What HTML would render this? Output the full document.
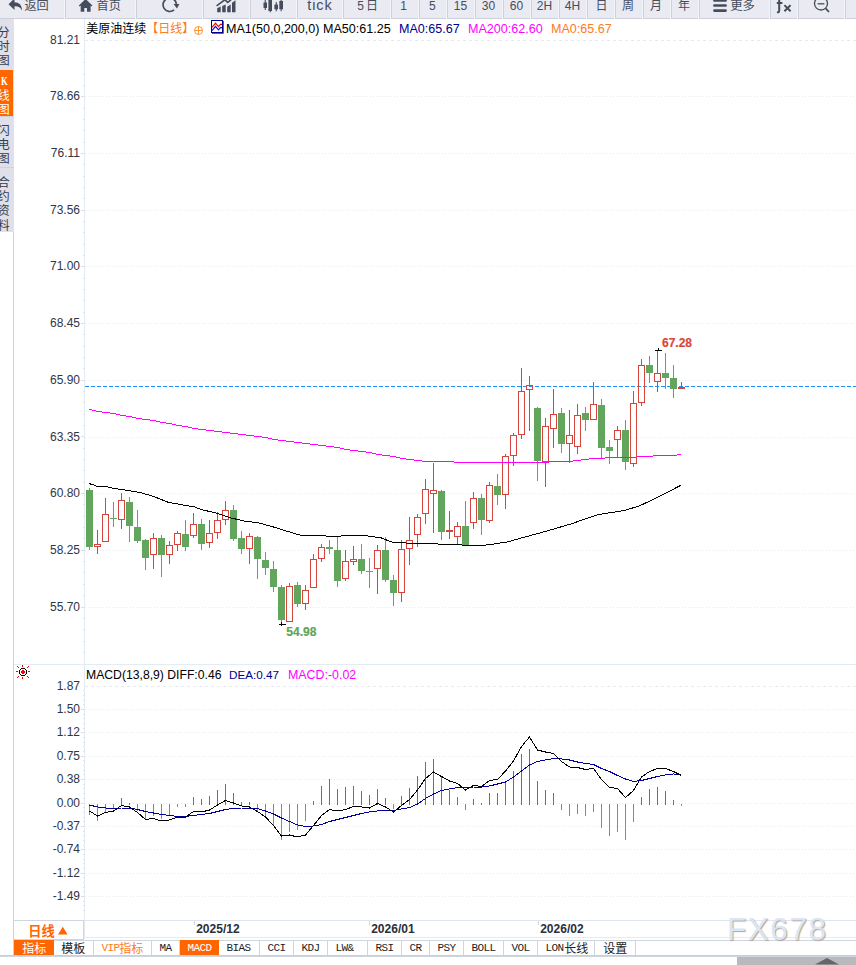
<!DOCTYPE html>
<html><head><meta charset="utf-8"><title>chart</title><style>
html,body{margin:0;padding:0;background:#fff}
body{width:856px;height:965px;position:relative;overflow:hidden;font-family:"Liberation Sans",sans-serif}
div{position:absolute;box-sizing:border-box;white-space:nowrap}
svg{position:absolute;left:0;top:0}
.tb{left:0;top:0;width:856px;height:19px;background:#e9eaf2;border-bottom:1px solid #cdd0da}
.sl{top:0;width:1px;height:19px;background:#f4f5f9}
.sd{top:0;width:1px;height:18px;background:#cdd0da}
.tbt{color:#454d5c;line-height:16px;transform:scaleY(1.09);transform-origin:0 12.2px}
.sb{left:0;width:14px;background:#dfe0e9}
.sbo{left:0;width:13px;background:#ff6600}
.sbl{left:0;width:14px;height:1px;background:#cfd2dc}
.sbk{left:1px;top:75px;color:#fff;font-family:"Liberation Serif",serif;font-size:12px;line-height:12px;font-weight:bold;transform:scaleX(0.72);transform-origin:0 0}
.yl{left:30px;width:50px;text-align:right;font-size:12px;line-height:14px;color:#303548}
.tt{font-size:12.4px;line-height:14px}
.hl{font-size:12px;font-weight:bold;line-height:13px}
.dl{top:922px;font-size:12px;font-weight:bold;line-height:14px;color:#2a2f3a}
.dtick{top:921px;width:1px;height:4px;background:#cfd8e4}
.rx{left:14px;top:920px;width:70px;height:20px;border:1px solid #cfd6e0;border-left:none;background:#fff}
.tabrow{left:14px;top:940px;width:842px;height:15px;border-top:1px solid #cfd6e0;background:#fff}
.tab{top:940px;height:15px;border-right:1px solid #cfd6e0;border-top:1px solid #cfd6e0;font-family:"Liberation Mono",monospace;font-size:11px;line-height:15px;color:#222;letter-spacing:-0.6px}
.tab.o{background:#ff6600;color:#fff;border-color:#ff6600}
.tab.v{color:#ff7a1a}
.wm{left:727px;top:912.8px;font-size:31.5px;line-height:32px;letter-spacing:1.55px;color:#d9e6f7;text-shadow:1px 1px 1px #b9a594}
.bl{left:0;top:955px;width:856px;height:2px;background:#cdd5e0;border-top:1px solid #c6cfdb}
.gb{left:737px;top:957px;width:119px;height:8px;background:#b9b8bd}
.ov text{font-family:"Liberation Sans","Noto Sans CJK SC",sans-serif}
</style></head>
<body>
<svg class="chart" width="856" height="965" viewBox="0 0 856 965" shape-rendering="crispEdges"><line x1="85" y1="40.5" x2="856" y2="40.5" stroke="#e4ebf2" stroke-dasharray="3 3"/>
<line x1="85" y1="96.5" x2="856" y2="96.5" stroke="#e4ebf2" stroke-dasharray="1 2"/>
<line x1="85" y1="153.5" x2="856" y2="153.5" stroke="#e4ebf2" stroke-dasharray="1 2"/>
<line x1="85" y1="210.5" x2="856" y2="210.5" stroke="#e4ebf2" stroke-dasharray="1 2"/>
<line x1="85" y1="266.5" x2="856" y2="266.5" stroke="#e4ebf2" stroke-dasharray="1 2"/>
<line x1="85" y1="323.5" x2="856" y2="323.5" stroke="#e4ebf2" stroke-dasharray="1 2"/>
<line x1="85" y1="380.5" x2="856" y2="380.5" stroke="#e4ebf2" stroke-dasharray="1 2"/>
<line x1="85" y1="437.5" x2="856" y2="437.5" stroke="#e4ebf2" stroke-dasharray="1 2"/>
<line x1="85" y1="493.5" x2="856" y2="493.5" stroke="#e4ebf2" stroke-dasharray="1 2"/>
<line x1="85" y1="550.5" x2="856" y2="550.5" stroke="#e4ebf2" stroke-dasharray="1 2"/>
<line x1="85" y1="607.5" x2="856" y2="607.5" stroke="#e4ebf2" stroke-dasharray="1 2"/>
<line x1="85" y1="686.5" x2="856" y2="686.5" stroke="#e4ebf2" stroke-dasharray="3 3"/>
<line x1="85" y1="709.5" x2="856" y2="709.5" stroke="#e4ebf2" stroke-dasharray="1 2"/>
<line x1="85" y1="732.5" x2="856" y2="732.5" stroke="#e4ebf2" stroke-dasharray="1 2"/>
<line x1="85" y1="756.5" x2="856" y2="756.5" stroke="#e4ebf2" stroke-dasharray="1 2"/>
<line x1="85" y1="779.5" x2="856" y2="779.5" stroke="#e4ebf2" stroke-dasharray="1 2"/>
<line x1="85" y1="803.5" x2="856" y2="803.5" stroke="#e4ebf2" stroke-dasharray="1 2"/>
<line x1="85" y1="826.5" x2="856" y2="826.5" stroke="#e4ebf2" stroke-dasharray="1 2"/>
<line x1="85" y1="849.5" x2="856" y2="849.5" stroke="#e4ebf2" stroke-dasharray="1 2"/>
<line x1="85" y1="873.5" x2="856" y2="873.5" stroke="#e4ebf2" stroke-dasharray="1 2"/>
<line x1="85" y1="896.5" x2="856" y2="896.5" stroke="#e4ebf2" stroke-dasharray="1 2"/>
<line x1="84.5" y1="19" x2="84.5" y2="939" stroke="#e2eaf2"/>
<path d="M83 51.5H84M83 62.5H84M83 74.5H84M83 85.5H84M81 96.5H84M83 108.5H84M83 119.5H84M83 130.5H84M83 142.5H84M81 153.5H84M83 164.5H84M83 176.5H84M83 187.5H84M83 198.5H84M81 210.5H84M83 221.5H84M83 232.5H84M83 244.5H84M83 255.5H84M81 266.5H84M83 278.5H84M83 289.5H84M83 300.5H84M83 312.5H84M81 323.5H84M83 334.5H84M83 346.5H84M83 357.5H84M83 368.5H84M81 380.5H84M83 391.5H84M83 402.5H84M83 414.5H84M83 425.5H84M81 436.5H84M83 448.5H84M83 459.5H84M83 470.5H84M83 482.5H84M81 493.5H84M83 504.5H84M83 516.5H84M83 527.5H84M83 538.5H84M81 550.5H84M83 561.5H84M83 572.5H84M83 584.5H84M83 595.5H84M81 607.5H84M83 618.5H84M83 629.5H84M83 641.5H84M83 652.5H84M83 690.5H84M83 695.5H84M83 700.5H84M83 704.5H84M81 709.5H84M83 714.5H84M83 718.5H84M83 723.5H84M83 728.5H84M81 732.5H84M83 737.5H84M83 742.5H84M83 746.5H84M83 751.5H84M81 756.5H84M83 760.5H84M83 765.5H84M83 770.5H84M83 774.5H84M81 779.5H84M83 784.5H84M83 788.5H84M83 793.5H84M83 798.5H84M81 803.5H84M83 807.5H84M83 812.5H84M83 817.5H84M83 821.5H84M81 826.5H84M83 831.5H84M83 835.5H84M83 840.5H84M83 845.5H84M81 849.5H84M83 854.5H84M83 859.5H84M83 863.5H84M83 868.5H84M81 873.5H84M83 877.5H84M83 882.5H84M83 887.5H84M83 891.5H84M81 896.5H84M83 901.5H84M83 905.5H84M83 910.5H84" stroke="#d5deea" fill="none"/>
<line x1="14" y1="664.5" x2="856" y2="664.5" stroke="#e3ebf3"/>
<line x1="13.5" y1="232" x2="13.5" y2="956" stroke="#c9d2de"/>
<line x1="84" y1="920.5" x2="856" y2="920.5" stroke="#dfe5ee"/>
<line x1="84" y1="937.5" x2="856" y2="937.5" stroke="#e6ebf2"/>
<line x1="85" y1="386.5" x2="856" y2="386.5" stroke="#1e90ff" stroke-dasharray="4 2"/>
<path d="M89 488h1V550h-1ZM86 490h7V547h-7ZM113 502h1V527h-1ZM110 518h7V519h-7ZM129 497h1V542h-1ZM126 502h7V526h-7ZM137 510h1V543h-1ZM134 527h7V541h-7ZM145 539h1V570h-1ZM142 540h7V558h-7ZM161 535h1V577h-1ZM158 538h7V555h-7ZM185 520h1V551h-1ZM182 534h7V547h-7ZM201 519h1V550h-1ZM198 524h7V544h-7ZM233 505h1V541h-1ZM230 510h7V539h-7ZM241 531h1V554h-1ZM238 538h7V549h-7ZM257 536h1V579h-1ZM254 537h7V559h-7ZM265 552h1V575h-1ZM262 560h7V568h-7ZM273 561h1V592h-1ZM270 569h7V587h-7ZM281 585h1V623h-1ZM278 587h7V620h-7ZM297 582h1V607h-1ZM294 585h7V604h-7ZM329 540h1V554h-1ZM326 547h7V549h-7ZM337 537h1V587h-1ZM334 550h7V581h-7ZM361 544h1V574h-1ZM358 559h7V571h-7ZM369 558h1V588h-1ZM366 571h7V572h-7ZM385 537h1V582h-1ZM382 550h7V580h-7ZM393 575h1V606h-1ZM390 580h7V593h-7ZM441 490h1V540h-1ZM438 491h7V532h-7ZM465 501h1V545h-1ZM462 526h7V545h-7ZM481 494h1V535h-1ZM478 498h7V520h-7ZM497 474h1V505h-1ZM494 486h7V495h-7ZM537 407h1V481h-1ZM534 408h7V461h-7ZM561 408h1V453h-1ZM558 413h7V444h-7ZM585 407h1V431h-1ZM582 413h7V420h-7ZM601 399h1V458h-1ZM598 405h7V448h-7ZM609 440h1V464h-1ZM606 447h7V451h-7ZM625 420h1V470h-1ZM622 430h7V462h-7ZM649 356h1V383h-1ZM646 365h7V373h-7ZM665 353h1V389h-1ZM662 373h7V378h-7ZM673 365h1V398h-1ZM670 378h7V389h-7Z" fill="#62a65e"/>
<path d="M97 530h1V544h-1ZM97 547h1V554h-1ZM94 544h7V547h-7ZM95 545V546h5V545ZM105 498h1V514h-1ZM102 514h7V542h-7ZM103 515V541h5V515ZM121 493h1V500h-1ZM121 520h1V529h-1ZM118 500h7V520h-7ZM119 501V519h5V501ZM153 533h1V538h-1ZM153 555h1V569h-1ZM150 538h7V555h-7ZM151 539V554h5V539ZM169 541h1V545h-1ZM169 555h1V564h-1ZM166 545h7V555h-7ZM167 546V554h5V546ZM177 531h1V533h-1ZM177 545h1V551h-1ZM174 533h7V545h-7ZM175 534V544h5V534ZM193 513h1V524h-1ZM193 536h1V538h-1ZM190 524h7V536h-7ZM191 525V535h5V525ZM209 520h1V533h-1ZM209 543h1V548h-1ZM206 533h7V543h-7ZM207 534V542h5V534ZM217 512h1V520h-1ZM217 533h1V539h-1ZM214 520h7V533h-7ZM215 521V532h5V521ZM225 501h1V510h-1ZM225 520h1V525h-1ZM222 510h7V520h-7ZM223 511V519h5V511ZM249 533h1V536h-1ZM249 549h1V564h-1ZM246 536h7V549h-7ZM247 537V548h5V537ZM289 583h1V586h-1ZM286 586h7V622h-7ZM287 587V621h5V587ZM305 585h1V590h-1ZM305 604h1V610h-1ZM302 590h7V604h-7ZM303 591V603h5V591ZM313 554h1V559h-1ZM310 559h7V588h-7ZM311 560V587h5V560ZM321 544h1V547h-1ZM321 559h1V562h-1ZM318 547h7V559h-7ZM319 548V558h5V548ZM345 550h1V561h-1ZM345 579h1V581h-1ZM342 561h7V579h-7ZM343 562V578h5V562ZM353 546h1V559h-1ZM353 562h1V565h-1ZM350 559h7V562h-7ZM351 560V561h5V560ZM377 545h1V550h-1ZM377 569h1V594h-1ZM374 550h7V569h-7ZM375 551V568h5V551ZM401 540h1V549h-1ZM401 593h1V602h-1ZM398 549h7V593h-7ZM399 550V592h5V550ZM409 517h1V540h-1ZM409 549h1V565h-1ZM406 540h7V549h-7ZM407 541V548h5V541ZM417 514h1V517h-1ZM417 535h1V547h-1ZM414 517h7V535h-7ZM415 518V534h5V518ZM425 479h1V489h-1ZM425 514h1V524h-1ZM422 489h7V514h-7ZM423 490V513h5V490ZM433 463h1V490h-1ZM433 494h1V533h-1ZM430 490h7V494h-7ZM431 491V493h5V491ZM449 511h1V530h-1ZM449 532h1V539h-1ZM446 530h7V532h-7ZM457 522h1V526h-1ZM457 537h1V544h-1ZM454 526h7V537h-7ZM455 527V536h5V527ZM473 492h1V498h-1ZM473 523h1V529h-1ZM470 498h7V523h-7ZM471 499V522h5V499ZM489 482h1V485h-1ZM489 521h1V523h-1ZM486 485h7V521h-7ZM487 486V520h5V486ZM505 454h1V456h-1ZM505 495h1V509h-1ZM502 456h7V495h-7ZM503 457V494h5V457ZM513 433h1V435h-1ZM513 456h1V466h-1ZM510 435h7V456h-7ZM511 436V455h5V436ZM521 368h1V391h-1ZM521 435h1V439h-1ZM518 391h7V435h-7ZM519 392V434h5V392ZM529 376h1V385h-1ZM529 390h1V431h-1ZM526 385h7V390h-7ZM527 386V389h5V386ZM545 418h1V426h-1ZM545 462h1V487h-1ZM542 426h7V462h-7ZM543 427V461h5V427ZM553 389h1V414h-1ZM553 429h1V448h-1ZM550 414h7V429h-7ZM551 415V428h5V415ZM569 410h1V435h-1ZM569 444h1V463h-1ZM566 435h7V444h-7ZM567 436V443h5V436ZM577 404h1V415h-1ZM577 447h1V454h-1ZM574 415h7V447h-7ZM575 416V446h5V416ZM593 382h1V404h-1ZM590 404h7V420h-7ZM591 405V419h5V405ZM617 426h1V430h-1ZM617 440h1V457h-1ZM614 430h7V440h-7ZM615 431V439h5V431ZM633 391h1V403h-1ZM633 464h1V467h-1ZM630 403h7V464h-7ZM631 404V463h5V404ZM641 359h1V365h-1ZM641 403h1V406h-1ZM638 365h7V403h-7ZM639 366V402h5V366ZM657 350h1V373h-1ZM657 382h1V392h-1ZM654 373h7V382h-7ZM655 374V381h5V374ZM681 382h1V387h-1ZM678 387h7V389h-7Z" fill="#d6453d" fill-rule="evenodd"/>
<path d="M89 409H92v1H89ZM92 410H96v1H92ZM96 411H102v1H96ZM102 412H110v1H102ZM110 413H116v1H110ZM116 414H120v1H116ZM120 415H126v1H120ZM126 416H132v1H126ZM132 417H136v1H132ZM136 418H142v1H136ZM142 419H150v1H142ZM150 420H156v1H150ZM156 421H160v1H156ZM160 422H166v1H160ZM166 423H172v1H166ZM172 424H176v1H172ZM176 425H182v1H176ZM182 426H188v1H182ZM188 427H192v1H188ZM192 428H198v1H192ZM198 429H206v1H198ZM206 430H214v1H206ZM214 431H222v1H214ZM222 432H230v1H222ZM230 433H238v1H230ZM238 434H246v1H238ZM246 435H254v1H246ZM254 436H262v1H254ZM262 437H268v1H262ZM268 438H272v1H268ZM272 439H278v1H272ZM278 440H286v1H278ZM286 441H294v1H286ZM294 442H302v1H294ZM302 443H310v1H302ZM310 444H318v1H310ZM318 445H326v1H318ZM326 446H334v1H326ZM334 447H340v1H334ZM340 448H344v1H340ZM344 449H350v1H344ZM350 450H358v1H350ZM358 451H366v1H358ZM366 452H372v1H366ZM372 453H376v1H372ZM376 454H382v1H376ZM382 455H390v1H382ZM390 456H396v1H390ZM396 457H400v1H396ZM400 458H406v1H400ZM406 459H414v1H406ZM414 460H422v1H414ZM422 461H454v1H422ZM454 462H549v1H454ZM549 461H573v1H549ZM573 460H581v1H573ZM581 459H589v1H581ZM589 458H605v1H589ZM605 457H637v1H605ZM637 456H653v1H637ZM653 455H677v1H653ZM677 454H681v1H677Z" fill="#ff00ff"/>
<polyline points="89.0,483.6 94.0,485.0 96.1,486.0 100.0,486.5 108.0,487.0 112.0,488.0 118.1,489.0 140.0,492.4 154.0,496.6 168.0,502.2 182.0,504.8 194.7,506.9 200.4,509.3 217.0,513.3 231.0,517.9 243.7,521.0 259.0,522.9 274.5,527.3 297.0,534.3 302.5,535.7 325.0,535.6 327.0,536.5 340.0,536.5 342.0,535.6 365.5,535.7 374.0,536.8 381.0,537.8 386.5,540.0 392.0,542.1 405.0,542.6 407.0,543.2 437.0,543.6 439.0,544.4 461.0,544.4 463.0,545.3 484.5,545.2 493.0,544.1 507.0,542.0 520.0,538.4 545.2,531.5 570.5,524.1 597.8,514.6 625.0,510.4 640.0,505.6 656.7,497.8 681.0,485.2" fill="none" stroke="#000" stroke-width="1"/>
<path d="M655 350.5H662M658.5 348V351" stroke="#000" fill="none"/>
<path d="M279 624.5H286M281.5 622V626" stroke="#000" fill="none"/>
<path d="M89 804h1V815h-1ZM97 804h1V821h-1ZM105 804h1V812h-1ZM113 804h1V809h-1ZM137 804h1V811h-1ZM145 804h1V819h-1ZM153 804h1V816h-1ZM161 804h1V819h-1ZM169 804h1V815h-1ZM177 804h1V807h-1ZM185 804h1V807h-1ZM257 804h1V812h-1ZM265 804h1V817h-1ZM273 804h1V826h-1ZM281 804h1V840h-1ZM289 804h1V832h-1ZM297 804h1V830h-1ZM305 804h1V821h-1ZM393 804h1V809h-1ZM465 804h1V810h-1ZM561 804h1V810h-1ZM569 804h1V816h-1ZM577 804h1V814h-1ZM585 804h1V816h-1ZM593 804h1V812h-1ZM601 804h1V828h-1ZM609 804h1V836h-1ZM617 804h1V832h-1ZM625 804h1V840h-1ZM633 804h1V822h-1ZM681 804h1V806h-1Z" fill="#62a65e"/>
<path d="M121 798h1V805h-1ZM129 803h1V805h-1ZM193 797h1V805h-1ZM201 799h1V805h-1ZM209 796h1V805h-1ZM217 790h1V805h-1ZM225 784h1V805h-1ZM233 793h1V805h-1ZM241 802h1V805h-1ZM249 802h1V805h-1ZM313 801h1V805h-1ZM321 786h1V805h-1ZM329 779h1V805h-1ZM337 789h1V805h-1ZM345 787h1V805h-1ZM353 786h1V805h-1ZM361 791h1V805h-1ZM369 795h1V805h-1ZM377 789h1V805h-1ZM385 798h1V805h-1ZM401 796h1V805h-1ZM409 788h1V805h-1ZM417 776h1V805h-1ZM425 762h1V805h-1ZM433 759h1V805h-1ZM441 777h1V805h-1ZM449 790h1V805h-1ZM457 797h1V805h-1ZM473 799h1V805h-1ZM481 803h1V805h-1ZM489 793h1V805h-1ZM497 793h1V805h-1ZM505 782h1V805h-1ZM513 771h1V805h-1ZM521 754h1V805h-1ZM529 749h1V805h-1ZM537 781h1V805h-1ZM545 790h1V805h-1ZM553 793h1V805h-1ZM641 797h1V805h-1ZM649 789h1V805h-1ZM657 787h1V805h-1ZM665 791h1V805h-1ZM673 800h1V805h-1Z" fill="#d6453d"/>
<polyline points="89.5,805.0 97.5,807.0 105.5,808.0 113.5,809.0 121.5,808.0 129.5,808.0 137.5,809.5 145.5,811.5 153.5,813.0 161.5,814.5 169.5,815.5 177.5,816.5 185.5,816.5 193.5,815.5 201.5,814.5 209.5,813.5 217.5,811.5 225.5,809.5 233.5,808.5 241.5,808.0 249.5,808.0 257.5,808.5 265.5,811.0 273.5,814.0 281.5,818.0 289.5,821.5 297.5,825.0 305.5,826.5 313.5,826.0 321.5,824.5 329.5,821.5 337.5,819.5 345.5,817.5 353.5,815.5 361.5,813.5 369.5,812.0 377.5,811.0 385.5,810.5 393.5,810.5 401.5,809.0 409.5,807.5 417.5,804.0 425.5,798.5 433.5,794.0 441.5,790.5 449.5,789.0 457.5,787.5 465.5,787.5 473.5,787.0 481.5,787.0 489.5,786.0 497.5,784.0 505.5,782.0 513.5,777.0 521.5,771.0 529.5,765.0 537.5,761.5 545.5,760.0 553.5,758.5 561.5,759.0 569.5,760.0 577.5,762.0 585.5,763.5 593.5,764.5 601.5,768.5 609.5,771.5 617.5,775.5 625.5,779.0 633.5,781.5 641.5,780.5 649.5,778.5 657.5,776.5 665.5,775.0 673.5,774.0 681.5,774.5" fill="none" stroke="#0000a0" stroke-width="1"/>
<polyline points="89.5,811.0 97.5,816.0 105.5,812.5 113.5,811.0 121.5,805.5 129.5,807.0 137.5,812.5 145.5,819.5 153.5,818.5 161.5,821.0 169.5,820.0 177.5,817.0 185.5,817.0 193.5,811.5 201.5,812.0 209.5,810.0 217.5,805.0 225.5,800.5 233.5,803.0 241.5,806.0 249.5,807.0 257.5,811.5 265.5,817.0 273.5,825.5 281.5,836.0 289.5,835.0 297.5,837.0 305.5,835.0 313.5,825.5 321.5,815.5 329.5,809.5 337.5,811.0 345.5,809.5 353.5,806.5 361.5,807.0 369.5,808.0 377.5,803.5 385.5,807.0 393.5,812.0 401.5,805.5 409.5,799.5 417.5,790.0 425.5,778.5 433.5,772.0 441.5,776.5 449.5,781.0 457.5,783.5 465.5,790.0 473.5,785.5 481.5,786.5 489.5,780.5 497.5,779.5 505.5,771.0 513.5,761.0 521.5,746.5 529.5,737.0 537.5,750.0 545.5,752.0 553.5,753.5 561.5,761.5 569.5,767.0 577.5,767.5 585.5,769.5 593.5,768.5 601.5,779.5 609.5,787.5 617.5,788.5 625.5,797.5 633.5,790.5 641.5,777.0 649.5,771.5 657.5,768.5 665.5,768.5 673.5,771.5 681.5,775.5" fill="none" stroke="#000" stroke-width="1"/>
<path d="M21 668h1v1h-1ZM22 668h1v1h-1ZM23 668h1v1h-1ZM24 668h1v1h-1ZM21 675h1v1h-1ZM22 675h1v1h-1ZM23 675h1v1h-1ZM24 675h1v1h-1ZM19 670h1v1h-1ZM19 671h1v1h-1ZM19 672h1v1h-1ZM19 673h1v1h-1ZM26 670h1v1h-1ZM26 671h1v1h-1ZM26 672h1v1h-1ZM26 673h1v1h-1ZM20 669h1v1h-1ZM25 669h1v1h-1ZM20 674h1v1h-1ZM25 674h1v1h-1Z" fill="#000"/>
<path d="M22 670h1v1h-1ZM23 670h1v1h-1ZM21 671h1v1h-1ZM22 671h1v1h-1ZM23 671h1v1h-1ZM24 671h1v1h-1ZM21 672h1v1h-1ZM22 672h1v1h-1ZM23 672h1v1h-1ZM24 672h1v1h-1ZM22 673h1v1h-1ZM23 673h1v1h-1Z" fill="#f00"/>
<path d="M22 665h1v1h-1ZM22 666h1v1h-1ZM22 677h1v1h-1ZM22 678h1v1h-1ZM16 671h1v1h-1ZM17 671h1v1h-1ZM28 671h1v1h-1ZM29 671h1v1h-1ZM17 666h1v1h-1ZM18 667h1v1h-1ZM28 666h1v1h-1ZM27 667h1v1h-1ZM17 677h1v1h-1ZM18 676h1v1h-1ZM28 677h1v1h-1ZM27 676h1v1h-1Z" fill="#f00"/></svg>
<div class="tb"></div>
<div class="sl" style="left:64px"></div><div class="sd" style="left:65px"></div>
<div class="sl" style="left:135px"></div><div class="sd" style="left:136px"></div>
<div class="sl" style="left:202px"></div><div class="sd" style="left:203px"></div>
<div class="sl" style="left:249px"></div><div class="sd" style="left:250px"></div>
<div class="sl" style="left:296px"></div><div class="sd" style="left:297px"></div>
<div class="sl" style="left:342px"></div><div class="sd" style="left:343px"></div>
<div class="sl" style="left:390px"></div><div class="sd" style="left:391px"></div>
<div class="sl" style="left:418px"></div><div class="sd" style="left:419px"></div>
<div class="sl" style="left:446px"></div><div class="sd" style="left:447px"></div>
<div class="sl" style="left:474px"></div><div class="sd" style="left:475px"></div>
<div class="sl" style="left:502px"></div><div class="sd" style="left:503px"></div>
<div class="sl" style="left:530px"></div><div class="sd" style="left:531px"></div>
<div class="sl" style="left:558px"></div><div class="sd" style="left:559px"></div>
<div class="sl" style="left:586px"></div><div class="sd" style="left:587px"></div>
<div class="sl" style="left:614px"></div><div class="sd" style="left:615px"></div>
<div class="sl" style="left:642px"></div><div class="sd" style="left:643px"></div>
<div class="sl" style="left:670px"></div><div class="sd" style="left:671px"></div>
<div class="sl" style="left:698px"></div><div class="sd" style="left:699px"></div>
<div class="sl" style="left:769px"></div><div class="sd" style="left:770px"></div>
<div class="sl" style="left:797px"></div><div class="sd" style="left:798px"></div>
<div class="sl" style="left:844px"></div><div class="sd" style="left:845px"></div>
<div class="tbt" style="left:307.3px;top:-2.7px;font-size:14.5px;letter-spacing:0.9px;transform:none;">tick</div>
<div class="tbt" style="left:357.3px;top:-2px;font-size:12px;letter-spacing:0px;">5</div>
<div class="tbt" style="left:400.3px;top:-2px;font-size:12px;letter-spacing:0px;">1</div>
<div class="tbt" style="left:429px;top:-2px;font-size:12px;letter-spacing:0px;">5</div>
<div class="tbt" style="left:453.8px;top:-2px;font-size:12px;letter-spacing:0px;">15</div>
<div class="tbt" style="left:481.8px;top:-2px;font-size:12px;letter-spacing:0px;">30</div>
<div class="tbt" style="left:509.8px;top:-2px;font-size:12px;letter-spacing:0px;">60</div>
<div class="tbt" style="left:536.8px;top:-2px;font-size:12px;letter-spacing:0px;">2H</div>
<div class="tbt" style="left:564.8px;top:-2px;font-size:12px;letter-spacing:0px;">4H</div>
<div class="sb" style="top:19px;height:213px"></div>
<div class="sbo" style="top:70px;height:46px"></div>
<div class="sbl" style="top:116px"></div>
<div class="sbl" style="top:167px"></div>
<div class="sbk">K</div>
<div class="yl" style="top:33px">81.21</div>
<div class="yl" style="top:89px">78.66</div>
<div class="yl" style="top:146px">76.11</div>
<div class="yl" style="top:203px">73.56</div>
<div class="yl" style="top:259px">71.00</div>
<div class="yl" style="top:316px">68.45</div>
<div class="yl" style="top:373px">65.90</div>
<div class="yl" style="top:430px">63.35</div>
<div class="yl" style="top:486px">60.80</div>
<div class="yl" style="top:543px">58.25</div>
<div class="yl" style="top:600px">55.70</div>
<div class="yl" style="top:679px">1.87</div>
<div class="yl" style="top:702px">1.50</div>
<div class="yl" style="top:725px">1.12</div>
<div class="yl" style="top:749px">0.75</div>
<div class="yl" style="top:772px">0.38</div>
<div class="yl" style="top:796px">0.00</div>
<div class="yl" style="top:819px">-0.37</div>
<div class="yl" style="top:842px">-0.74</div>
<div class="yl" style="top:866px">-1.12</div>
<div class="yl" style="top:889px">-1.49</div>
<div class="tt" style="left:226px;top:21.5px;color:#000;font-size:12.55px">MA1(50,0,200,0) MA50:61.25</div>
<div class="tt" style="left:399px;top:21.5px;color:#00008b;font-size:12.55px">MA0:65.67</div>
<div class="tt" style="left:468px;top:21.5px;color:#ff00ff;font-size:12.55px">MA200:62.60</div>
<div class="tt" style="left:551px;top:21.5px;color:#ff7a1a;font-size:12.55px">MA0:65.67</div>
<div class="tt" style="left:86px;top:668px;color:#000;font-size:12.2px">MACD(13,8,9) DIFF:0.46</div>
<div class="tt" style="left:229px;top:668px;color:#00008b;font-size:11.7px">DEA:0.47</div>
<div class="tt" style="left:288px;top:668px;color:#ff00ff;font-size:12.4px">MACD:-0.02</div>
<div class="hl" style="left:662px;top:337px;color:#d9453d;text-shadow:-0.5px 0 0 rgba(255,190,90,.35),0.5px 0 0 rgba(200,120,220,.3)">67.28</div>
<div class="hl" style="left:286.3px;top:626.3px;color:#5fa35a;text-shadow:-0.5px 0 0 rgba(245,215,90,.4),0.5px 0 0 rgba(90,215,240,.35)">54.98</div>
<div class="dl" style="left:196.2px">2025/12</div>
<div class="dtick" style="left:194px"></div>
<div class="dl" style="left:371.2px">2026/01</div>
<div class="dtick" style="left:369px"></div>
<div class="dl" style="left:540.2px">2026/02</div>
<div class="dtick" style="left:538px"></div>
<div class="rx"></div>
<div class="tabrow"></div>
<div class="tab o" style="left:14px;width:40px;text-align:left;padding-left:7.5px;"></div>
<div class="tab " style="left:54px;width:40px;text-align:left;padding-left:7.5px;"></div>
<div class="tab v" style="left:94px;width:58px;text-align:left;padding-left:7.5px;">VIP</div>
<div class="tab " style="left:152px;width:28px;text-align:left;padding-left:7.5px;">MA</div>
<div class="tab o" style="left:180px;width:39px;text-align:left;padding-left:7.5px;">MACD</div>
<div class="tab " style="left:219px;width:41px;text-align:left;padding-left:7.5px;">BIAS</div>
<div class="tab " style="left:260px;width:34px;text-align:left;padding-left:7.5px;">CCI</div>
<div class="tab " style="left:294px;width:34px;text-align:left;padding-left:7.5px;">KDJ</div>
<div class="tab " style="left:328px;width:40px;text-align:left;padding-left:7.5px;">LW&amp;</div>
<div class="tab " style="left:368px;width:34px;text-align:left;padding-left:7.5px;">RSI</div>
<div class="tab " style="left:402px;width:28px;text-align:left;padding-left:7.5px;">CR</div>
<div class="tab " style="left:430px;width:34px;text-align:left;padding-left:7.5px;">PSY</div>
<div class="tab " style="left:464px;width:40px;text-align:left;padding-left:7.5px;">BOLL</div>
<div class="tab " style="left:504px;width:34px;text-align:left;padding-left:7.5px;">VOL</div>
<div class="tab " style="left:538px;width:57px;text-align:left;padding-left:7.5px;">LON</div>
<div class="tab " style="left:595px;width:41px;text-align:left;padding-left:7.5px;"></div>
<div class="wm">FX678</div>
<div class="bl"></div><div class="gb"></div>
<svg class="ov" width="856" height="965" viewBox="0 0 856 965"><text x="24.4" y="9.7" font-size="12.2" fill="#454d5c">返回</text>
<text x="96.6" y="9.7" font-size="12.2" fill="#454d5c">首页</text>
<text x="366" y="9.7" font-size="12" fill="#454d5c">日</text>
<text x="595.5" y="9.7" font-size="12" fill="#454d5c">日</text>
<text x="622" y="9.7" font-size="12" fill="#454d5c">周</text>
<text x="650" y="9.7" font-size="12" fill="#454d5c">月</text>
<text x="678" y="9.7" font-size="12" fill="#454d5c">年</text>
<text x="730.2" y="10.2" font-size="12.4" fill="#454d5c">更多</text>
<text font-size="12.2" fill="#353e4e" text-anchor="middle"><tspan x="3.7" y="37.1">分</tspan><tspan x="3.7" y="50.8">时</tspan><tspan x="3.7" y="65">图</tspan></text>
<text font-size="12.2" fill="#fff" text-anchor="middle"><tspan x="3.7" y="100.1">线</tspan><tspan x="3.7" y="113.5">图</tspan></text>
<text font-size="12.2" fill="#353e4e" text-anchor="middle"><tspan x="3.7" y="134.7">闪</tspan><tspan x="3.7" y="148.9">电</tspan><tspan x="3.7" y="163.4">图</tspan></text>
<text font-size="12.2" fill="#353e4e" text-anchor="middle"><tspan x="3.7" y="186.7">合</tspan><tspan x="3.7" y="201">约</tspan><tspan x="3.7" y="215.3">资</tspan><tspan x="3.7" y="229.6">料</tspan></text>
<text x="86.2" y="33" font-size="12" fill="#000">美原油连续</text>
<text x="146.2" y="33" font-size="12" fill="#ff7a1a">【日线】</text>
<text x="28.3" y="935.6" font-size="13.2" font-weight="bold" fill="#ff6600">日线</text>
<text x="22.2" y="952.5" font-size="12" fill="#fff">指标</text>
<text x="61.2" y="952.5" font-size="12" fill="#222">模板</text>
<text x="119.2" y="952.5" font-size="12" fill="#ff7a1a">指标</text>
<text x="564.3" y="952.5" font-size="12" fill="#222">长线</text>
<text x="603.2" y="952.5" font-size="12" fill="#222">设置</text>
<path d="M8.5 4.2L14.5 -1.5V2.2C19 2.2 22 5 22 10.5C20.5 7.3 18.5 6.2 14.5 6.2V9.9Z" fill="#454d5c"/>
<path d="M78.8 5.6L85.6 -1L92.4 5.6L91.6 6.4L90.6 5.5V11.7H87V8H84.3V11.7H80.7V5.5L79.6 6.4Z" fill="#454d5c"/>
<path d="M174.1 9.9A6.7 6.7 0 1 1 176.4 3.8" fill="none" stroke="#454d5c" stroke-width="1.7"/><path d="M173.6 3.9L179.4 3.9L176.9 8.4Z" fill="#454d5c"/>
<path d="M217.2 12.3V8.2l3.5-1.8V12.3ZM222.2 12.3V6l3.5-1.6V12.3ZM227.2 12.3V6.8l3.5-2.2V12.3ZM232 12.3V2.8l3.5-2.6V12.3Z" fill="#454d5c"/><path d="M216.6 5.8L224.8 -0.2L227.8 2.4L235.8 -4.4" fill="none" stroke="#454d5c" stroke-width="1.6"/>
<path d="M263.5 2.4h3.5v5.6h-3.5ZM268.4 -1h3.6v12h-3.6ZM274.4 4.4h3.6v4.9h-3.6ZM279.3 1h3.7v8.3h-3.7ZM264.7 0h1.1v10h-1.1ZM269.7 -3h1.1v15.3h-1.1ZM275.7 2h1.1v9.3h-1.1ZM280.6 -3h1.1v14.3h-1.1Z" fill="#454d5c"/>
<path d="M714.4 0.4H725.6M714.4 5.5H725.6M714.4 10.6H725.6" stroke="#454d5c" stroke-width="2.6" stroke-linecap="round" fill="none"/>
<path d="M782.4 -1.7C780 -2.3 779.2 -1.1 779.2 0.5V10.7C779.2 12.1 778.4 12.5 777 12.1M776.8 3.1H782.4" fill="none" stroke="#454d5c" stroke-width="2"/><path d="M784.4 5.1L790.6 11.3M790.6 5.1L784.4 11.3" stroke="#454d5c" stroke-width="2" fill="none"/>
<circle cx="821" cy="3.5" r="6.5" fill="none" stroke="#454d5c" stroke-width="1.3"/><path d="M817.6 3.8H824.4" stroke="#454d5c" stroke-width="1.3"/><path d="M825.6 8.4L829 12" stroke="#454d5c" stroke-width="1.8"/>
<circle cx="198.5" cy="30.5" r="4" fill="none" stroke="#ff8a20" stroke-width="0.9"/><path d="M194.5 30.5H202.5M198.5 26.5V34.5" stroke="#ff8a20" stroke-width="0.9"/>
<path d="M223.5 21V33.5H212" fill="none" stroke="#666" stroke-width="1"/><rect x="211.5" y="20.5" width="11" height="12" fill="#fff" stroke="#00008b" stroke-width="1"/><path d="M212 27.4L215.5 23.2L218.5 26.7L220.4 24.4H222" fill="none" stroke="#f00" stroke-width="1.1"/><path d="M212 30.6L215.5 26.4L218.5 29.9L220.4 27.6H222" fill="none" stroke="#00f" stroke-width="1.1"/>
<path d="M58 934.6L62.8 926.8L67.6 934.6Z" fill="#ff6600"/>
<path d="M815 964.5L827 958L839 964.5Z" fill="#66666a"/></svg>
</body></html>
